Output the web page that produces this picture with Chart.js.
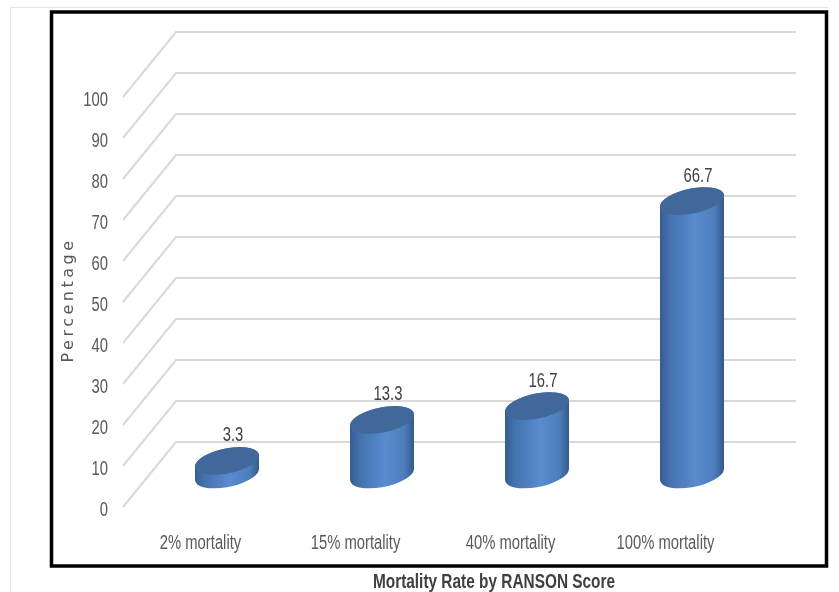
<!DOCTYPE html>
<html>
<head>
<meta charset="utf-8">
<script src="https://cdn.jsdelivr.net/npm/chart.js@4.4.1/dist/chart.umd.min.js"></script>
<style>
html,body{margin:0;padding:0;background:#fff;}
#wrap{width:839px;height:592px;position:relative;}
</style>
</head>
<body>
<div id="wrap"><canvas id="c"></canvas></div>
<script>
// values
const categories = ["2% mortality", "15% mortality", "40% mortality", "100% mortality"];
const mortality = [3.3, 13.3, 16.7, 66.7];
const yTicks = [0, 10, 20, 30, 40, 50, 60, 70, 80, 90, 100];
const yTitle = "Percentage";
const xTitle = "Mortality Rate by RANSON Score";

const DEPTH = {x: 53, y: -65};   // back wall offset of the fake 3d floor

// narrow text: Liberation Sans squeezed to look like the Calibri of the original
function narrowText(ctx, text, x, y, size, opts = {}) {
  ctx.save();
  ctx.translate(x, y);
  ctx.scale(opts.squeeze || 0.74, 1);
  ctx.font = (opts.bold ? "bold " : "") + size + "px 'Liberation Sans', Arial, sans-serif";
  ctx.fillStyle = opts.color || "#595959";
  ctx.textAlign = opts.align || "center";
  ctx.textBaseline = "middle";
  ctx.fillText(text, 0, 0);
  ctx.restore();
}

function cylinder(ctx, cx, yTop, yBot, a, b, rot) {
  const t0 = Math.atan2(-b * Math.sin(rot), a * Math.cos(rot));
  const w = Math.sqrt(a*a*Math.cos(rot)**2 + b*b*Math.sin(rot)**2);
  const g = ctx.createLinearGradient(cx - w, 0, cx + w, 0);
  g.addColorStop(0, "#355d93");
  g.addColorStop(0.15, "#4472ae");
  g.addColorStop(0.55, "#5a8bcf");
  g.addColorStop(0.85, "#4d7dbd");
  g.addColorStop(1, "#34598a");
  ctx.beginPath();
  ctx.ellipse(cx, yBot, a, b, rot, t0, t0 + Math.PI, false);
  ctx.ellipse(cx, yTop, a, b, rot, t0 + Math.PI, t0 + 2*Math.PI, false);
  ctx.closePath();
  ctx.fillStyle = g;
  ctx.fill();
  ctx.beginPath();
  ctx.ellipse(cx, yTop, a, b, rot, 0, 2*Math.PI);
  ctx.fillStyle = "#416899";
  ctx.fill();
}

const depth3d = {
  id: "depth3d",
  beforeDraw(chart) {
    const ctx = chart.ctx;
    ctx.save();
    ctx.fillStyle = "#fff";
    ctx.fillRect(0, 0, chart.width, chart.height);
    ctx.strokeStyle = "#e3e3e3"; ctx.lineWidth = 1;
    ctx.beginPath(); ctx.moveTo(10.5, 600); ctx.lineTo(10.5, 7.5); ctx.lineTo(828, 7.5); ctx.stroke();
    ctx.strokeStyle = "#000"; ctx.lineWidth = 3.5;
    ctx.strokeRect(51.5, 12, 775, 554);
    ctx.restore();
  },
  beforeDatasetsDraw(chart) {
    const {ctx, chartArea: a, scales: {x, y}} = chart;
    ctx.save();
    ctx.strokeStyle = "#d9d9d9"; ctx.lineWidth = 2;
    y.ticks.forEach(t => {
      const py = y.getPixelForValue(t.value);
      ctx.beginPath();
      ctx.moveTo(a.left, py);
      ctx.lineTo(a.left + DEPTH.x, py + DEPTH.y);
      ctx.lineTo(a.right + DEPTH.x, py + DEPTH.y);
      ctx.stroke();
      narrowText(ctx, String(t.value), a.left - 15, py + 3, 20, {align: "right"});
    });
    categories.forEach((c, i) => {
      narrowText(ctx, c, x.getPixelForTick(i), a.bottom + 36, 20);
    });
    ctx.restore();
  },
  afterDatasetsDraw(chart) {
    const ctx = chart.ctx;
    const meta = chart.getDatasetMeta(0);
    ctx.save();
    meta.data.forEach((el, i) => {
      const {x, y, base, width} = el.getProps(["x", "y", "base", "width"], true);
      const cx = x + DEPTH.x / 2;
      const yTop = y + DEPTH.y / 2, yBot = base + DEPTH.y / 2;
      cylinder(ctx, cx, yTop, yBot, width / 2, 12.5, -0.2);
      narrowText(ctx, mortality[i].toFixed(1), cx + 6, yTop - 25, 20, {color: "#404040"});
    });
    ctx.restore();
  },
  afterDraw(chart) {
    const ctx = chart.ctx;
    narrowText(ctx, xTitle, 494, 582, 20, {bold: true, color: "#404040", squeeze: 0.77});
    ctx.save();
    ctx.translate(69, 302);
    ctx.rotate(-Math.PI / 2);
    ctx.fillStyle = "#595959";
    ctx.font = "16px 'DejaVu Sans'";
    ctx.letterSpacing = "3.5px";
    ctx.textAlign = "center"; ctx.textBaseline = "middle";
    ctx.fillText(yTitle, 2, 0);
    ctx.restore();
  }
};

new Chart(document.getElementById("c"), {
  type: "bar",
  data: {
    labels: categories,
    datasets: [{
      data: mortality,
      backgroundColor: "rgba(0,0,0,0)",
      borderWidth: 0,
      categoryPercentage: 1,
      barPercentage: 0.42
    }]
  },
  options: {
    responsive: true, maintainAspectRatio: false, animation: false,
    layout: {padding: {left: 50, top: 97, right: 96, bottom: 0}},
    plugins: {legend: {display: false}, tooltip: {enabled: false}},
    scales: {
      x: {
        grid: {display: false, drawTicks: false}, border: {display: false},
        ticks: {display: false},
        afterFit: s => { s.height = 85; }
      },
      y: {
        min: 0, max: 100,
        grid: {display: false, drawTicks: false}, border: {display: false},
        ticks: {display: false},
        afterBuildTicks: s => { s.ticks = yTicks.map(v => ({value: v})); },
        afterFit: s => { s.width = 73; }
      }
    }
  },
  plugins: [depth3d]
});
</script>
</body>
</html>
